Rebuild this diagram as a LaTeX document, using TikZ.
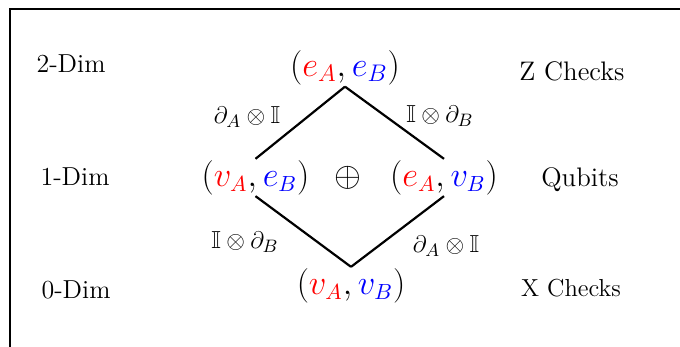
\documentclass[tikz,border=0pt]{standalone}
\usepackage{amsmath,amssymb}
\usepackage{xcolor}
\usetikzlibrary{positioning}

\newcommand{\acol}[1]{{\color{red}#1}}
\newcommand{\bcol}[1]{{\color{blue}#1}}

\begin{document}
\begin{tikzpicture}[
  x=0.5pt, y=-0.5pt,
  dimlabel/.style={font=\fontsize{13}{15}\selectfont},
  checklabel/.style={font=\fontsize{13.4}{16}\selectfont},
  space/.style={inner sep=0.5pt, font=\fontsize{16}{19}\selectfont},
  maplabel/.style={font=\fontsize{12.3}{14}\selectfont},
  edge/.style={line width=1.1pt}
]
\clip (0,0) rectangle (680,347);
\draw [line width=1.2pt] (10,9) rectangle (720,400);

% dimension column
\node (dimtwo) [dimlabel] at (71,64) {2-Dim};
\node (dimone) [dimlabel] at (75,177) {1-Dim};
\node (dimzero) [dimlabel] at (76,290) {0-Dim};

% spaces
\node (ee) [space, font=\fontsize{17.5}{21}\selectfont] at (345,68) {$(\acol{e_A},\bcol{e_B})$};
\node (ve) [space] at (255.5,177.5) {$(\acol{v_A},\bcol{e_B})$};
\node (plus) [space] at (347.5,177.5) {$\oplus$};
\node (ev) [space] at (444,177.5) {$(\acol{e_A},\bcol{v_B})$};
\node (vv) [space] at (351,285.5) {$(\acol{v_A},\bcol{v_B})$};

% check column
\node (zchk) [checklabel] at (572,71) {Z Checks};
\node (qub) [checklabel] at (580,180) {Qubits};
\node (xchk) [checklabel, font=\fontsize{12.3}{15}\selectfont] at (571,288) {X Checks};

% boundary maps
\draw [edge] (ee.south) -- (ve.north);
\draw [edge] (ee.south) -- (ev.north);
\draw [edge] (ve.south) -- (vv.north);
\draw [edge] (ev.south) -- (vv.north);

\node (dA1) [maplabel] at (247,117) {$\partial_A\otimes\mathbb{I}$};
\node (dB1) [maplabel] at (440,116) {$\mathbb{I}\otimes\partial_B$};
\node (dB2) [maplabel] at (245,242) {$\mathbb{I}\otimes\partial_B$};
\node (dA2) [maplabel] at (446,246) {$\partial_A\otimes\mathbb{I}$};

\end{tikzpicture}
\end{document}
